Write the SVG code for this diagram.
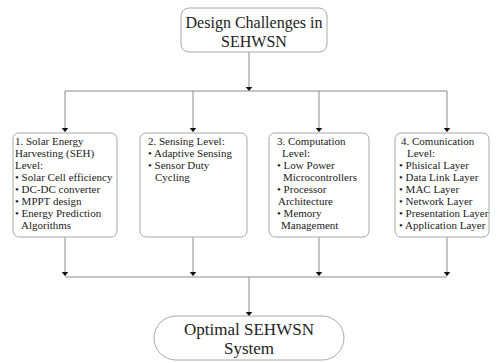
<svg xmlns="http://www.w3.org/2000/svg" width="498" height="363" viewBox="0 0 498 363">
  <style>
    .box { fill: #ffffff; stroke: #a8a8a8; stroke-width: 1; }
    .wire { fill: none; stroke: #8a8a8a; stroke-width: 1; }
    .title { font-family: 'Liberation Serif', 'DejaVu Serif', serif; font-size: 16px; fill: #222; text-anchor: middle; }
    .item { font-family: 'Liberation Serif', 'DejaVu Serif', serif; font-size: 11px; fill: #222; }
  </style>
  <defs>
    <marker id="arrow" viewBox="0 0 6 10" markerWidth="4" markerHeight="8" refX="6" refY="5" orient="auto" markerUnits="userSpaceOnUse">
      <path d="M0,0 L6,5 L0,10 Z" fill="#111"/>
    </marker>
  </defs>
  <rect width="498" height="363" fill="#ffffff"/>

  <!-- connectors -->
  <g id="connectors">
    <path class="wire" d="M249,52 V91" marker-end="url(#arrow)"/>
    <path class="wire" d="M65,91 H447"/>
    <path class="wire" d="M65,91 V132" marker-end="url(#arrow)"/>
    <path class="wire" d="M193,91 V132" marker-end="url(#arrow)"/>
    <path class="wire" d="M319,91 V132" marker-end="url(#arrow)"/>
    <path class="wire" d="M447,91 V132" marker-end="url(#arrow)"/>
    <path class="wire" d="M65,237 V276" marker-end="url(#arrow)"/>
    <path class="wire" d="M193,237 V276" marker-end="url(#arrow)"/>
    <path class="wire" d="M319,237 V276" marker-end="url(#arrow)"/>
    <path class="wire" d="M447,237 V276" marker-end="url(#arrow)"/>
    <path class="wire" d="M65,277 H447"/>
    <path class="wire" d="M249,277 V316" marker-end="url(#arrow)"/>
  </g>

  <!-- top goal -->
  <g id="design-challenges">
    <rect class="box" x="181" y="8" width="146" height="44" rx="8"/>
    <text class="title" x="254" y="28">Design Challenges in</text>
    <text class="title" x="254" y="47">SEHWSN</text>
  </g>

  <!-- level 1 -->
  <g id="solar-level">
    <rect class="box" x="13" y="133" width="104" height="104" rx="6"/>
    <text class="item" x="15" y="145">1. Solar Energy</text>
    <text class="item" x="15" y="157">Harvesting (SEH)</text>
    <text class="item" x="15" y="169">Level:</text>
    <text class="item" x="15" y="181">• Solar Cell efficiency</text>
    <text class="item" x="15" y="193">• DC-DC converter</text>
    <text class="item" x="15" y="205">• MPPT design</text>
    <text class="item" x="15" y="217">• Energy Prediction</text>
    <text class="item" x="21" y="229">Algorithms</text>
  </g>

  <!-- level 2 -->
  <g id="sensing-level">
    <rect class="box" x="140" y="133" width="107" height="104" rx="6"/>
    <text class="item" x="148" y="145">2. Sensing Level:</text>
    <text class="item" x="148" y="157">• Adaptive Sensing</text>
    <text class="item" x="148" y="169">• Sensor Duty</text>
    <text class="item" x="155" y="181">Cycling</text>
  </g>

  <!-- level 3 -->
  <g id="computation-level">
    <rect class="box" x="269" y="133" width="100" height="104" rx="6"/>
    <text class="item" x="277" y="145">3. Computation</text>
    <text class="item" x="282" y="157">Level:</text>
    <text class="item" x="277" y="169">• Low Power</text>
    <text class="item" x="283" y="181">Microcontrollers</text>
    <text class="item" x="277" y="193">• Processor</text>
    <text class="item" x="278" y="205">Architecture</text>
    <text class="item" x="277" y="217">• Memory</text>
    <text class="item" x="281" y="229">Management</text>
  </g>

  <!-- level 4 -->
  <g id="communication-level">
    <rect class="box" x="395" y="133" width="94" height="104" rx="6"/>
    <text class="item" x="401" y="145">4. Comunication</text>
    <text class="item" x="407" y="157">Level:</text>
    <text class="item" x="399" y="169">• Phisical Layer</text>
    <text class="item" x="399" y="181">• Data Link Layer</text>
    <text class="item" x="399" y="193">• MAC Layer</text>
    <text class="item" x="399" y="205">• Network Layer</text>
    <text class="item" x="399" y="217">• Presentation Layer</text>
    <text class="item" x="399" y="229">• Application Layer</text>
  </g>

  <!-- outcome -->
  <g id="optimal-system">
    <rect class="box" x="154" y="316" width="190" height="44" rx="22"/>
    <text class="title" x="249" y="335" style="font-size:17px">Optimal SEHWSN</text>
    <text class="title" x="249" y="354" style="font-size:17px">System</text>
  </g>
</svg>
